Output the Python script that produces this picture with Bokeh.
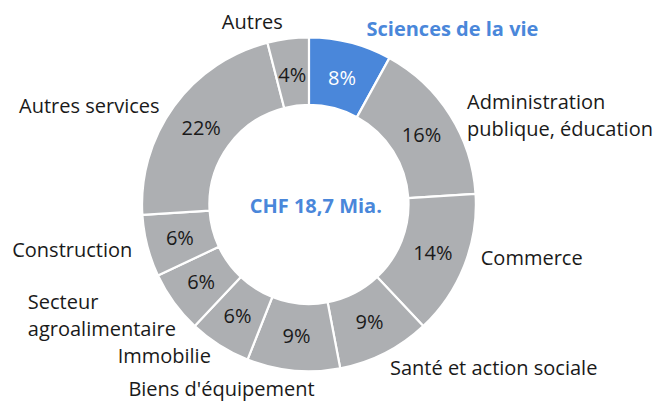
import numpy as np
from bokeh.plotting import figure
from bokeh.models import Range1d, ColumnDataSource
from bokeh.core.properties import value
from bokeh.embed import file_html
from bokeh.resources import INLINE

# ---- data ----
categories = ["Sciences de la vie", "Administration\npublique, éducation", "Commerce",
              "Santé et action sociale", "Biens d'équipement", "Immobilie",
              "Secteur\nagroalimentaire", "Construction", "Autres services", "Autres"]
shares = [8, 16, 14, 9, 9, 6, 6, 6, 22, 4]
total_label = "CHF 18,7 Mia."

# ---- layout (separate from data) ----
FONT = "Open Sans"
FS = "20px"
GREY = "#ADAFB2"
BLUE = "#4A87DA"
TXT = "#1a1a1a"
cx, cy = 316, -212
r_in, r_out = 102, 171
LINE_GAP = 28
# label anchors in reference pixels (x, y of first line from top), alignment
label_pos = [(463, 29, "center"), (478, 105, "left"), (492, 267, "left"),
             (399, 382, "left"), (131, 403, "left"), (120, 369, "left"),
             (28, 313, "left"), (12, 259, "left"), (19, 109, "left"),
             (258, 22, "center")]

W, H = 655, 403
p = figure(width=W, height=H, output_backend="svg", toolbar_location=None,
           x_range=Range1d(0, 671), y_range=Range1d(-419, 0),
           min_border=0, outline_line_color=None)
p.axis.visible = False
p.grid.visible = False
p.background_fill_color = "white"
p.border_fill_color = "white"

vals = np.array(shares, dtype=float)
frac = vals / vals.sum()
cum = np.concatenate([[0], np.cumsum(frac)])
start = np.pi / 2 - 2 * np.pi * cum[:-1]
end = np.pi / 2 - 2 * np.pi * cum[1:]
colors = [BLUE] + [GREY] * (len(shares) - 1)

src = ColumnDataSource(dict(x=[cx] * len(shares), y=[cy] * len(shares),
                            start=start, end=end, color=colors))
p.annular_wedge(x="x", y="y", inner_radius=r_in, outer_radius=r_out,
                start_angle="start", end_angle="end", direction="clock",
                fill_color="color", line_color="white", line_width=2.2, source=src)

# percent labels
mid = (start + end) / 2
r_mid = (r_in + r_out) / 2
pct_src = ColumnDataSource(dict(
    x=cx + r_mid * np.cos(mid), y=cy + r_mid * np.sin(mid),
    t=[f"{s}%" for s in shares],
    c=["white"] + [TXT] * (len(shares) - 1)))
p.text(x="x", y="y", text="t", text_color="c", source=pct_src,
       text_align="center", text_baseline="middle",
       text_font=value(FONT), text_font_size=FS)

# category labels
for i, (lx, ly, al) in enumerate(label_pos):
    col = BLUE if i == 0 else TXT
    style = "bold" if i == 0 else "normal"
    for k, line in enumerate(categories[i].split("\n")):
        p.text(x=[lx], y=[-(ly + k * LINE_GAP)], text=[line], text_color=col,
               text_align=al, text_baseline="middle", text_font=value(FONT),
               text_font_size=FS, text_font_style=style)

# centre total
p.text(x=[323], y=[-213], text=[total_label], text_color=BLUE,
       text_align="center", text_baseline="middle", text_font=value(FONT),
       text_font_size="20px", text_font_style="bold")

open("out.html", "w").write(file_html(p, INLINE))
